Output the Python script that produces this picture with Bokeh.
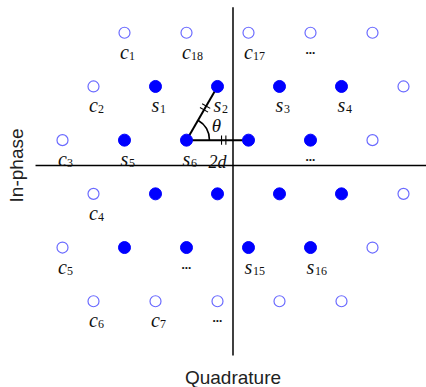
import math
from bokeh.plotting import figure
from bokeh.core.properties import value
from bokeh.embed import file_html
from bokeh.resources import INLINE

# ---- data (units of d; hexagonal lattice rows) ----
# signal points (filled)
sig_x = [-2.5, -0.5, 1.5, 3.5,
         -3.5, -1.5, 0.5, 2.5,
         -2.5, -0.5, 1.5, 3.5,
         -3.5, -1.5, 0.5, 2.5]
sig_y = [2.598, 2.598, 2.598, 2.598,
         0.866, 0.866, 0.866, 0.866,
         -0.866, -0.866, -0.866, -0.866,
         -2.598, -2.598, -2.598, -2.598]
sig_lab = ["s1", "s2", "s3", "s4",
           "s5", "s6", "", "...",
           "", "", "", "",
           "", "...", "s15", "s16"]

# candidate points (open)
cand_x = [-3.5, -1.5, 0.5, 2.5, 4.5,
          -4.5, 5.5,
          -5.5, 4.5,
          -4.5, 5.5,
          -5.5, 4.5,
          -4.5, -2.5, -0.5, 1.5, 3.5]
cand_y = [4.33, 4.33, 4.33, 4.33, 4.33,
          2.598, 2.598,
          0.866, 0.866,
          -0.866, -0.866,
          -2.598, -2.598,
          -4.33, -4.33, -4.33, -4.33, -4.33]
cand_lab = ["c1", "c18", "c17", "...", "",
            "c2", "",
            "c3", "",
            "c4", "",
            "c5", "",
            "c6", "c7", "...", "", ""]

# triangle: s6 -> s2 and s6 -> right neighbour
tri_from = 5
tri_to = [1, 6]

x_label = "Quadrature"
y_label = "In-phase"
angle_label = "θ"
dist_label = "2d"

# ---- figure ----
p = figure(width=426, height=387, x_range=(-7.5, 6.242), y_range=(-7.113, 5.371),
           output_backend="svg", toolbar_location=None,
           x_axis_type=None, y_axis_type=None, min_border=0)
p.outline_line_color = None
p.background_fill_color = "white"

# axis cross
p.segment(x0=[-6.37, 0.0], y0=[0.05, 5.15], x1=[6.3, 0.0], y1=[0.05, -6.08],
          line_color="black", line_width=1.5)

# triangle lines
sx, sy = sig_x[tri_from], sig_y[tri_from]
p.segment(x0=[sx] * len(tri_to), y0=[sy] * len(tri_to),
          x1=[sig_x[i] for i in tri_to], y1=[sig_y[i] for i in tri_to],
          line_color="black", line_width=2)
p.arc(x=[sx], y=[sy], radius=0.74, start_angle=0, end_angle=math.pi / 3,
      line_color="black", line_width=1.6)

# equal-length tick marks on both triangle sides
tx0, ty0, tx1, ty1 = [], [], [], []
for i in tri_to:
    dx, dy = sig_x[i] - sx, sig_y[i] - sy
    L = math.hypot(dx, dy)
    ux, uy = dx / L, dy / L
    nx, ny = -uy, ux
    for f in (0.565, 0.635):
        mx, my = sx + dx * f, sy + dy * f
        tx0.append(mx - 0.15 * nx); ty0.append(my - 0.15 * ny)
        tx1.append(mx + 0.15 * nx); ty1.append(my + 0.15 * ny)
p.segment(x0=tx0, y0=ty0, x1=tx1, y1=ty1, line_color="black", line_width=1.1)

# points
p.scatter(sig_x, sig_y, size=12, marker="circle", fill_color="#0000ff", line_color="#0000ff")
p.scatter(cand_x, cand_y, size=11, marker="circle", fill_color=None,
          line_color="#6b6bff", line_width=1.2)

# labels
all_x = sig_x + cand_x
all_y = sig_y + cand_y
all_lab = sig_lab + cand_lab
main_x, main_y, main_t, sub_x, sub_y, sub_t, dot_x, dot_y = [], [], [], [], [], [], [], []
for x, y, lab in zip(all_x, all_y, all_lab):
    if lab == "":
        continue
    if lab == "...":
        dot_x.append(x); dot_y.append(y)
        continue
    main_x.append(x); main_y.append(y); main_t.append(lab[0])
    sub_x.append(x); sub_y.append(y); sub_t.append(lab[1:])

serif = value("Liberation Serif")
p.text(main_x, main_y, text=main_t, text_font=serif, text_font_style="italic",
       text_font_size="20px", text_align="center", text_baseline="alphabetic",
       y_offset=19, text_color="#111111")
p.text(sub_x, sub_y, text=sub_t, text_font=serif, text_font_size="12px",
       text_align="left", text_baseline="alphabetic", x_offset=4.5, y_offset=23,
       text_color="#111111")
p.text(dot_x, dot_y, text=["..."] * len(dot_x), text_font=serif, text_font_style="bold",
       text_font_size="13px", text_align="center", text_baseline="alphabetic",
       y_offset=17, text_color="#111111")

# theta and 2d
p.text([sx], [sy], text=[angle_label], text_font=serif, text_font_style="italic",
       text_font_size="19px", text_align="center", text_baseline="middle",
       x_offset=30, y_offset=-15, text_color="#111111")
p.text([(sx + sig_x[6]) / 2], [sy], text=[dist_label], text_font=serif, text_font_style="italic",
       text_font_size="18px", text_align="center", text_baseline="alphabetic",
       y_offset=22, text_color="#111111")

# axis titles
sans = value("Liberation Sans")
p.text([-6.98], [0.05], text=[y_label], angle=math.pi / 2, text_font=sans,
       text_font_size="19px", text_align="center", text_baseline="middle", text_color="#222222")
p.text([0.0], [-6.79], text=[x_label], text_font=sans,
       text_font_size="19px", text_align="center", text_baseline="alphabetic", text_color="#222222")

open("out.html", "w").write(file_html(p, INLINE))
